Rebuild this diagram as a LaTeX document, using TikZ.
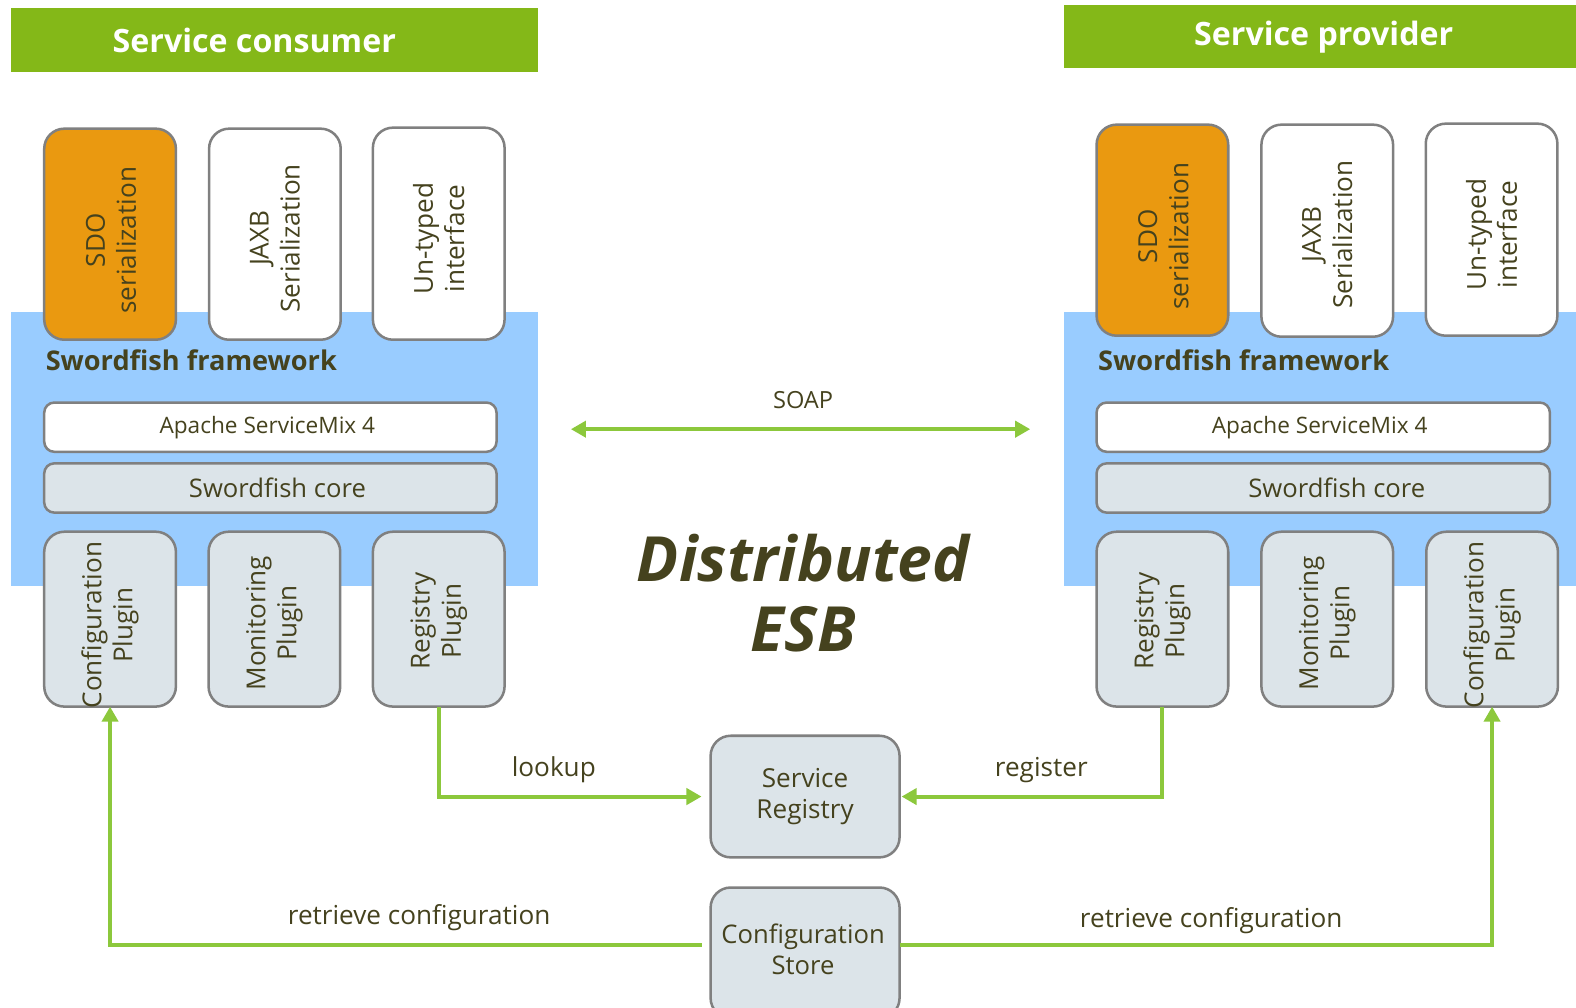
\documentclass[tikz,border=0pt]{standalone}
\usepackage{fontspec}
\setmainfont{Open Sans}
\usetikzlibrary{arrows.meta}

\definecolor{hdrgreen}{RGB}{132,184,24}
\definecolor{panelblue}{RGB}{153,204,255}
\definecolor{sdoorange}{RGB}{234,153,16}
\definecolor{boxfill}{RGB}{220,228,233}
\definecolor{boxline}{RGB}{128,128,128}
\definecolor{inkdark}{RGB}{69,66,30}
\definecolor{linkgreen}{RGB}{140,200,60}

\tikzset{
  hdrbox/.style={fill=hdrgreen, inner sep=0, outer sep=0},
  hdrtext/.style={text=white, font=\fontsize{32}{38}\selectfont\bfseries},
  panel/.style={fill=panelblue, inner sep=0, outer sep=0},
  tallbox/.style={draw=boxline, line width=2.5pt, rounded corners=20pt,
    minimum width=131pt, inner sep=0, outer sep=0},
  widebox/.style={draw=boxline, line width=2.5pt, rounded corners=10pt,
    minimum width=450pt, minimum height=49pt, inner sep=0, outer sep=0},
  smxtext/.style={text=inkdark, font=\fontsize{22.5}{26}\selectfont},
  coretext/.style={text=inkdark, font=\fontsize{25.5}{30}\selectfont},
  vtext/.style={rotate=90, align=center, text=inkdark,
    font=\fontsize{26}{31}\selectfont},
  frametitle/.style={anchor=west, text=inkdark,
    font=\fontsize{27}{32}\selectfont\bfseries},
  linklabel/.style={text=inkdark, font=\fontsize{26}{30}\selectfont},
  storebox/.style={draw=boxline, line width=2.5pt, rounded corners=20pt,
    fill=boxfill, minimum width=188pt, inner sep=0, outer sep=0,
    align=center, text=inkdark, font=\fontsize{26}{31}\selectfont},
  link/.style={draw=linkgreen, line width=4pt,
    -{Triangle[length=15pt,width=16pt]}},
}

\begin{document}
\begin{tikzpicture}[x=1pt, y=-1pt]
\clip (0,0) rectangle (1568,1002);
\fill[white] (0,0) rectangle (1568,1002);

% ---- headers
\node[hdrbox, minimum width=524pt, minimum height=64pt] (hdrL) at (273,40) {};
\node[hdrtext] (hdrLt) at (253,40) {Service consumer};
\node[hdrbox, minimum width=509pt, minimum height=63pt] (hdrR) at (1313.5,36.5) {};
\node[hdrtext] (hdrRt) at (1317,37) {Service provider};

% ---- framework panels
\node[panel, minimum width=524pt, minimum height=273pt] (pnlL) at (273,446.5) {};
\node[panel, minimum width=509pt, minimum height=273pt] (pnlR) at (1313.5,446.5) {};

% ---- consumer side: serialization / interface boxes
\node[tallbox, fill=sdoorange, minimum height=210pt] (sdoL) at (109.5,233) {};
\node[vtext] (sdoLt) at ([xshift=1pt,yshift=-6pt]sdoL) {SDO\\serialization};
\node[tallbox, fill=white, minimum height=210pt] (jaxbL) at (273.5,233) {};
\node[vtext] (jaxbLt) at ([yshift=-4pt]jaxbL) {JAXB\\Serialization};
\node[tallbox, fill=white, minimum height=211pt] (untL) at (436.5,232.5) {};
\node[vtext] (untLt) at ([yshift=-5pt]untL) {Un-typed\\interface};

\node[frametitle] (fwL) at (42,358) {Swordfish framework};
\node[widebox, fill=white] (smxL) at (269,425) {};
\node[smxtext] (smxLt) at (266,425) {Apache ServiceMix 4};
\node[widebox, fill=boxfill] (coreL) at (269,485.5) {};
\node[coretext] (coreLt) at (276,485.5) {Swordfish core};

% ---- consumer side: plugins
\node[tallbox, fill=boxfill, minimum height=174pt] (cfgPL) at (109.5,616) {};
\node[vtext] (cfgPLt) at ([yshift=-6pt]cfgPL) {Configuration\\Plugin};
\node[tallbox, fill=boxfill, minimum height=174pt] (monPL) at (273,616) {};
\node[vtext] (monPLt) at ([yshift=-4pt]monPL) {Monitoring\\Plugin};
\node[tallbox, fill=boxfill, minimum height=174pt] (regPL) at (436.5,616) {};
\node[vtext] (regPLt) at ([yshift=-2pt]regPL) {Registry\\Plugin};

% ---- provider side: serialization / interface boxes
\node[tallbox, fill=sdoorange, minimum height=210pt] (sdoR) at (1156.5,229) {};
\node[vtext] (sdoRt) at ([xshift=1pt,yshift=-6pt]sdoR) {SDO\\serialization};
\node[tallbox, fill=white, minimum height=211pt] (jaxbR) at (1320.5,229.5) {};
\node[vtext] (jaxbRt) at ([yshift=-4pt]jaxbR) {JAXB\\Serialization};
\node[tallbox, fill=white, minimum height=211pt] (untR) at (1484,228.5) {};
\node[vtext] (untRt) at ([yshift=-5pt]untR) {Un-typed\\interface};

\node[frametitle] (fwR) at (1089,358) {Swordfish framework};
\node[widebox, fill=white, minimum width=451pt] (smxR) at (1316.5,425) {};
\node[smxtext] (smxRt) at (1313,425) {Apache ServiceMix 4};
\node[widebox, fill=boxfill, minimum width=451pt] (coreR) at (1316.5,485.5) {};
\node[coretext] (coreRt) at (1330,485.5) {Swordfish core};

% ---- provider side: plugins
\node[tallbox, fill=boxfill, minimum height=174pt] (regPR) at (1156.5,616) {};
\node[vtext] (regPRt) at ([yshift=-2pt]regPR) {Registry\\Plugin};
\node[tallbox, fill=boxfill, minimum height=174pt] (monPR) at (1320.5,616) {};
\node[vtext] (monPRt) at ([yshift=-4pt]monPR) {Monitoring\\Plugin};
\node[tallbox, fill=boxfill, minimum height=174pt] (cfgPR) at (1484.5,616) {};
\node[vtext] (cfgPRt) at ([yshift=-6pt]cfgPR) {Configuration\\Plugin};

% ---- SOAP link
\coordinate (soapL) at (568,427);
\coordinate (soapR) at (1025,427);
\draw[link, {Triangle[length=15pt,width=16pt]}-{Triangle[length=15pt,width=16pt]}] (soapL) -- (soapR);
\node[text=inkdark, font=\fontsize{23.5}{28}\selectfont] (soapT) at (799,398) {SOAP};

% ---- title
\node[align=center, text=inkdark, font=\fontsize{62}{70}\selectfont\bfseries\itshape] (esb) at (799,590) {Distributed\\ESB};

% ---- central services
\node[storebox, minimum height=121pt] (svcReg) at (801,792.5) {Service\\Registry};
\node[storebox, minimum height=130pt] (cfgStore) at (801,948) {};
\node[align=center, text=inkdark, font=\fontsize{25.5}{31}\selectfont] (cfgStoreT) at (799,944.5) {Configuration\\Store};

% ---- registry links
\draw[link, shorten >=9pt] (regPL.south) |- (svcReg.west);
\node[linklabel] (lookupT) at (551,766) {lookup};
\draw[link, shorten >=2pt] (regPR.south) |- (svcReg.east);
\node[linklabel] (registerT) at (1036,766) {register};

% ---- configuration links
\draw[link, shorten <=9pt] ([yshift=8pt]cfgStore.west) -| (cfgPL.south);
\node[linklabel] (retrLT) at (417,913) {retrieve configuration};
\draw[link] ([yshift=8pt]cfgStore.east) -| (cfgPR.south);
\node[linklabel] (retrRT) at (1205,916) {retrieve configuration};
\end{tikzpicture}
\end{document}
